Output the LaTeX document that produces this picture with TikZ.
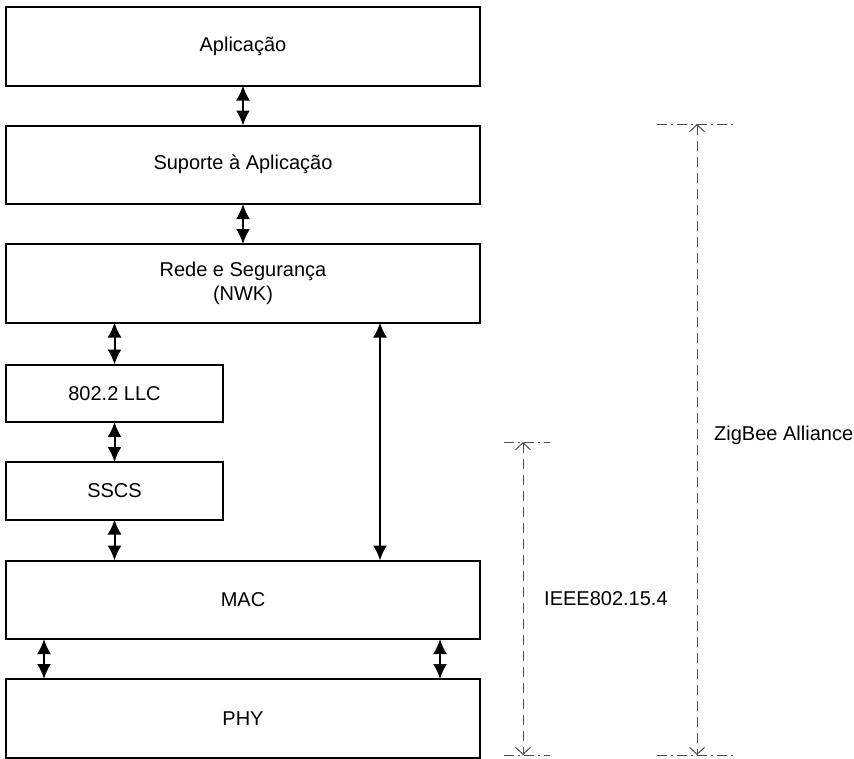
\documentclass[tikz,border=0pt]{standalone}
\usepackage{fontspec}
\setmainfont{Liberation Sans}
\usetikzlibrary{positioning, arrows.meta, calc}
\definecolor{dimGray}{HTML}{4d4d4d}
\begin{document}
\begin{tikzpicture}[x=1pt, y=-1pt, layer/.style={draw, line width=2pt, minimum width=474pt, minimum height=78.5pt, align=center, font=\fontsize{20}{24}\selectfont, inner sep=0pt, outer sep=0pt}, sublayer/.style={layer, minimum width=217pt, minimum height=57.5pt}, link/.style={line width=2pt, {Latex[length=15pt, width=14pt]}-{Latex[length=15pt, width=14pt]}}, dimline/.style={dash pattern=on 10pt off 6pt, color=dimGray, line width=1pt, {Straight Barb[length=7pt, width=15pt]}-{Straight Barb[length=7pt, width=15pt]}}, limitline/.style={dash pattern=on 10pt off 4pt on 2pt off 4pt, color=dimGray, line width=1pt}, dimlbl/.style={anchor=base west, inner sep=0pt, font=\fontsize{20}{24}\selectfont}]
\useasboundingbox (0,0) rectangle (854,758);
% protocol stack
\node[layer, anchor=north] (app) at (243,7) {Aplicação};
\node[layer, below=40pt of app] (aps) {Suporte à Aplicação};
\node[layer, below=40pt of aps] (nwk) {Rede e Segurança\\(NWK)};
\node[sublayer, below=42pt of nwk.south west, anchor=north west] (llc) {802.2 LLC};
\node[sublayer, below=40pt of llc] (sscs) {SSCS};
\node[layer, below=41pt of sscs.south west, anchor=north west] (mac) {MAC};
\node[layer, below=40pt of mac] (phy) {PHY};
% links between layers
\coordinate (nwkTap) at ($(nwk.south west)+(374,0)$);
\coordinate (macL) at ($(mac.south west)+(38,0)$);
\coordinate (macR) at ($(mac.south east)+(-40,0)$);
\draw[link] (app) -- (aps);
\draw[link] (aps) -- (nwk);
\draw[link] (nwk.south -| llc.north) -- (llc.north);
\draw[link] (llc) -- (sscs);
\draw[link] (sscs.south) -- (sscs.south |- mac.north);
\draw[link] (nwkTap) -- (nwkTap |- mac.north);
\draw[link] (macL) -- (macL |- phy.north);
\draw[link] (macR) -- (macR |- phy.north);
% scope of the standards
\coordinate (ieeeTop) at (523,442); \coordinate (ieeeBot) at (523,755);
\coordinate (zbTop) at (697,124); \coordinate (zbBot) at (697,755);
\draw[limitline] ($(ieeeTop)+(-19,0)$) -- ($(ieeeTop)+(27,0)$);
\draw[limitline] ($(ieeeBot)+(-19,0)$) -- ($(ieeeBot)+(27,0)$);
\draw[limitline] ($(zbTop)+(-40,0)$) -- ($(zbTop)+(37,0)$);
\draw[limitline] ($(zbBot)+(-40,0)$) -- ($(zbBot)+(37,0)$);
\draw[dimline] (ieeeTop) -- (ieeeBot);
\draw[dimline] (zbTop) -- (zbBot);
\node[dimlbl] (ieeeLbl) at (544,605) {IEEE802.15.4};
\node[dimlbl] (zbLbl) at (714,440) {ZigBee Alliance};
\end{tikzpicture}
\end{document}
